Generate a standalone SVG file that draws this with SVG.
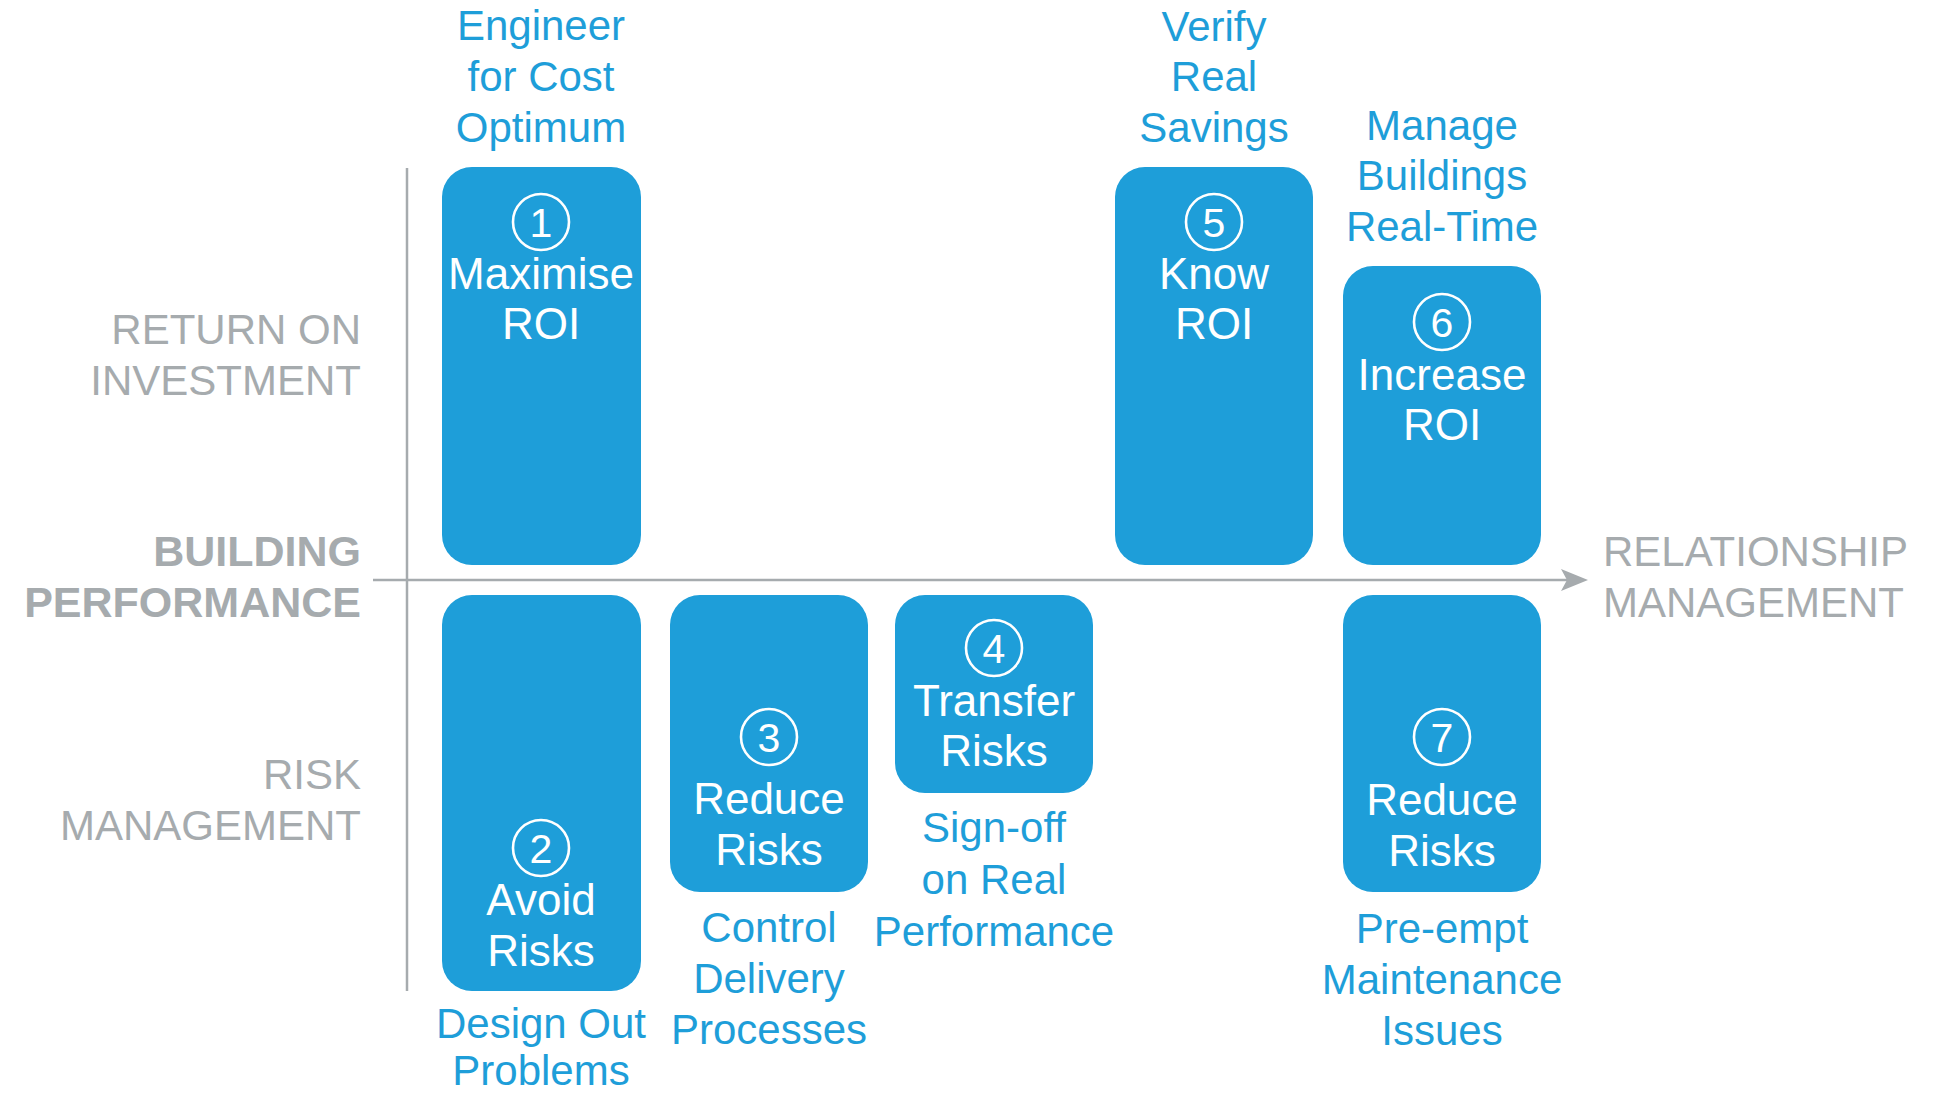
<svg xmlns="http://www.w3.org/2000/svg" width="1934" height="1095" viewBox="0 0 1934 1095">
<style>
  text { font-family: "Liberation Sans", Arial, sans-serif; }
  .box { fill: #1E9ED9; }
  .ring { fill: none; stroke: #FFFFFF; stroke-width: 2.6; }
  .num { fill: #FFFFFF; font-size: 41px; text-anchor: middle; }
  .in { fill: #FFFFFF; font-size: 44px; text-anchor: middle; }
  .lbl { fill: #1E9ED9; font-size: 42px; text-anchor: middle; }
  .ax { fill: #A6ABAE; font-size: 42px; }
  .axb { fill: #A6ABAE; font-size: 43px; font-weight: bold; }
  .axis { stroke: #A6ABAE; stroke-width: 2.5; fill: none; }
</style>

<g id="axes">
  <line class="axis" x1="407" y1="168" x2="407" y2="991"/>
  <line class="axis" x1="373" y1="580" x2="1570" y2="580"/>
  <path d="M1588,580 L1561,569 L1567,580 L1561,591 Z" fill="#A6ABAE"/>
</g>

<g id="axis-labels">
  <text class="ax" x="361" y="344" text-anchor="end">RETURN ON</text>
  <text class="ax" x="361" y="395" text-anchor="end">INVESTMENT</text>
  <text class="axb" x="361" y="566" text-anchor="end">BUILDING</text>
  <text class="axb" x="361" y="617" text-anchor="end">PERFORMANCE</text>
  <text class="ax" x="361" y="789" text-anchor="end">RISK</text>
  <text class="ax" x="361" y="840" text-anchor="end">MANAGEMENT</text>
  <text class="ax" x="1603" y="566">RELATIONSHIP</text>
  <text class="ax" x="1603" y="617">MANAGEMENT</text>
</g>

<g id="node1">
  <text class="lbl" x="541" y="40">Engineer</text>
  <text class="lbl" x="541" y="91">for Cost</text>
  <text class="lbl" x="541" y="142">Optimum</text>
  <rect class="box" x="442" y="167" width="199" height="398" rx="30"/>
  <circle class="ring" cx="541" cy="222" r="28"/>
  <text class="num" x="541" y="237">1</text>
  <text class="in" x="541" y="289">Maximise</text>
  <text class="in" x="541" y="339">ROI</text>
</g>

<g id="node5">
  <text class="lbl" x="1214" y="41">Verify</text>
  <text class="lbl" x="1214" y="91">Real</text>
  <text class="lbl" x="1214" y="142">Savings</text>
  <rect class="box" x="1115" y="167" width="198" height="398" rx="30"/>
  <circle class="ring" cx="1214" cy="222" r="28"/>
  <text class="num" x="1214" y="237">5</text>
  <text class="in" x="1214" y="289">Know</text>
  <text class="in" x="1214" y="339">ROI</text>
</g>

<g id="node6">
  <text class="lbl" x="1442" y="140">Manage</text>
  <text class="lbl" x="1442" y="190">Buildings</text>
  <text class="lbl" x="1442" y="241">Real-Time</text>
  <rect class="box" x="1343" y="266" width="198" height="299" rx="30"/>
  <circle class="ring" cx="1442" cy="322" r="28"/>
  <text class="num" x="1442" y="337">6</text>
  <text class="in" x="1442" y="390">Increase</text>
  <text class="in" x="1442" y="440">ROI</text>
</g>

<g id="node2">
  <rect class="box" x="442" y="595" width="199" height="396" rx="30"/>
  <circle class="ring" cx="541" cy="848" r="28"/>
  <text class="num" x="541" y="863">2</text>
  <text class="in" x="541" y="915">Avoid</text>
  <text class="in" x="541" y="966">Risks</text>
  <text class="lbl" x="541" y="1038">Design Out</text>
  <text class="lbl" x="541" y="1085">Problems</text>
</g>

<g id="node3">
  <rect class="box" x="670" y="595" width="198" height="297" rx="30"/>
  <circle class="ring" cx="769" cy="737" r="28"/>
  <text class="num" x="769" y="752">3</text>
  <text class="in" x="769" y="814">Reduce</text>
  <text class="in" x="769" y="865">Risks</text>
  <text class="lbl" x="769" y="942">Control</text>
  <text class="lbl" x="769" y="993">Delivery</text>
  <text class="lbl" x="769" y="1044">Processes</text>
</g>

<g id="node4">
  <rect class="box" x="895" y="595" width="198" height="198" rx="30"/>
  <circle class="ring" cx="994" cy="648" r="28"/>
  <text class="num" x="994" y="663">4</text>
  <text class="in" x="994" y="716">Transfer</text>
  <text class="in" x="994" y="766">Risks</text>
  <text class="lbl" x="994" y="842">Sign-off</text>
  <text class="lbl" x="994" y="894">on Real</text>
  <text class="lbl" x="994" y="946">Performance</text>
</g>

<g id="node7">
  <rect class="box" x="1343" y="595" width="198" height="297" rx="30"/>
  <circle class="ring" cx="1442" cy="737" r="28"/>
  <text class="num" x="1442" y="752">7</text>
  <text class="in" x="1442" y="815">Reduce</text>
  <text class="in" x="1442" y="866">Risks</text>
  <text class="lbl" x="1442" y="943">Pre-empt</text>
  <text class="lbl" x="1442" y="994">Maintenance</text>
  <text class="lbl" x="1442" y="1045">Issues</text>
</g>
</svg>
